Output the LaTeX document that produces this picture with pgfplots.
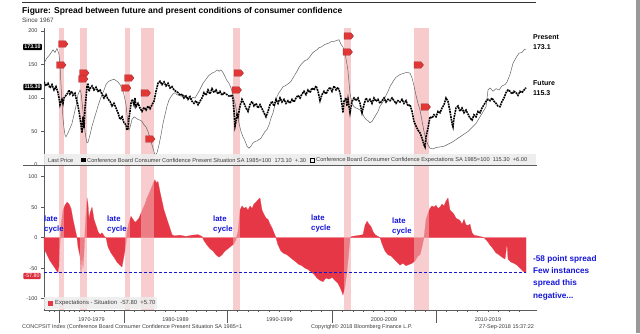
\documentclass[border=0pt]{standalone}
\usepackage{pgfplots}
\pgfplotsset{compat=1.18}
\usepackage{fontspec}
\setmainfont{Liberation Sans}
\definecolor{bandtop}{RGB}{247,202,204}
\definecolor{bandbot}{RGB}{242,172,176}
\definecolor{redarea}{RGB}{230,55,70}
\definecolor{annblue}{RGB}{20,20,215}
\definecolor{presgray}{RGB}{100,100,100}
\definecolor{flagred}{RGB}{225,55,55}
\definecolor{legbg}{RGB}{236,236,236}
\definecolor{axgray}{RGB}{90,90,90}
\definecolor{txtgray}{RGB}{60,60,60}
\definecolor{tagred}{RGB}{220,45,60}
\pgfdeclareplotmark{flag}{%
 \pgfpathmoveto{\pgfqpoint{-4.5bp}{-3.2bp}}%
 \pgfpathlineto{\pgfqpoint{2.5bp}{-3.2bp}}%
 \pgfpathlineto{\pgfqpoint{5bp}{0bp}}%
 \pgfpathlineto{\pgfqpoint{2.5bp}{3.2bp}}%
 \pgfpathlineto{\pgfqpoint{-4.5bp}{3.2bp}}%
 \pgfpathclose
 \pgfusepath{fill,stroke}}
\newcommand{\sm}{\fontsize{5.5bp}{6.5bp}\selectfont}
\newcommand{\legfont}{\fontsize{5.65bp}{6.5bp}\selectfont}
\begin{document}
\begin{tikzpicture}[x=1bp,y=1bp]
\path[use as bounding box] (0,0) rectangle (640,333);
% ---------------- top panel ----------------
\begin{axis}[
 at={(44bp,168bp)}, anchor=south west, scale only axis, width=493bp, height=137bp,
 xmin=44, xmax=537, ymin=0, ymax=204.5,
 axis x line=none, axis y line*=left,
 ytick={0,50,100,150,200},
 y axis line style={draw=axgray, line width=0.6bp},
 ytick style={draw=axgray, line width=0.6bp},
 tick align=outside, major tick length=3bp,
 yticklabel style={font=\sm, text=txtgray},
 /pgf/number format/assume math mode=true,
 clip=true,
]
\addplot[draw=none, fill=bandtop] coordinates {(59,0)(59,204.5)(64,204.5)(64,0)} -- cycle;
\addplot[draw=none, fill=bandtop] coordinates {(80,0)(80,204.5)(87,204.5)(87,0)} -- cycle;
\addplot[draw=none, fill=bandtop] coordinates {(125,0)(125,204.5)(130,204.5)(130,0)} -- cycle;
\addplot[draw=none, fill=bandtop] coordinates {(141,0)(141,204.5)(154,204.5)(154,0)} -- cycle;
\addplot[draw=none, fill=bandtop] coordinates {(233,0)(233,204.5)(240,204.5)(240,0)} -- cycle;
\addplot[draw=none, fill=bandtop] coordinates {(344,0)(344,204.5)(351,204.5)(351,0)} -- cycle;
\addplot[draw=none, fill=bandtop] coordinates {(414,0)(414,204.5)(429,204.5)(429,0)} -- cycle;
% Present situation
\addplot[presgray, line width=0.5bp] coordinates {
(44,152)(47,160)(50,165)(53,172)(55,168)(57,174)(59,165)(60,150)(61,120)(62,92)(63,70)(64,55)(65,45)(66,42)(68,48)(70,55)(72,62)(74,75)(76,88)(78,105)(80,112)(81,108)(82,95)(83,80)(84,62)(85,50)(86,40)(87,33)(88,34)(90,45)(92,58)(94,68)(96,78)(98,88)(100,97)(102,105)(104,112)(106,120)(108,124)(110,126)(112,127)(114,128)(116,126)(118,124)(120,120)(122,114)(124,105)(126,90)(127,75)(128,60)(129,52)(130,56)(132,68)(134,72)(136,70)(138,68)(140,67)(142,65)(144,60)(146,57)(148,50)(150,40)(152,30)(154,20)(155,15)(157,18)(159,30)(161,45)(163,62)(165,75)(167,88)(169,97)(171,102)(173,106)(175,108)(177,105)(179,104)(181,103)(183,102)(185,104)(187,100)(189,102)(191,98)(193,101)(195,100)(197,105)(199,110)(201,116)(203,122)(205,126)(207,130)(209,134)(211,136)(213,138)(215,139)(217,142)(219,140)(221,142)(223,138)(225,132)(227,126)(229,122)(231,115)(233,105)(235,92)(237,78)(239,62)(241,50)(243,42)(245,36)(247,28)(249,25)(251,28)(253,33)(255,35)(257,36)(259,38)(261,40)(263,45)(265,50)(267,53)(269,60)(271,70)(273,78)(275,90)(277,102)(279,108)(281,112)(283,117)(285,118)(287,120)(289,122)(291,125)(293,130)(295,135)(297,140)(299,146)(301,150)(303,153)(305,156)(307,157)(309,160)(311,164)(313,168)(315,170)(317,172)(319,175)(321,176)(323,178)(325,180)(327,181)(329,182)(331,184)(333,184)(335,185)(337,186)(339,187)(341,180)(343,176)(345,167)(347,150)(348,140)(350,107)(352,92)(354,87)(356,85)(358,84)(360,82)(362,78)(364,72)(366,68)(368,66)(370,63)(372,65)(374,70)(376,75)(378,80)(380,88)(382,92)(384,97)(386,104)(388,110)(390,117)(392,122)(394,127)(396,131)(398,133)(400,135)(402,136)(404,137)(406,138)(408,138)(410,137)(412,130)(414,118)(416,104)(418,92)(420,82)(422,66)(424,50)(426,38)(428,30)(430,25)(433,24)(436,26)(440,27)(444,28)(448,31)(452,34)(456,38)(460,42)(464,46)(468,50)(472,56)(476,62)(480,72)(484,82)(486,87)(488,112)(490,115)(493,110)(496,114)(499,112)(502,118)(505,120)(507,124)(510,135)(513,152)(516,160)(519,167)(522,168)(524,172)(526,173.1)
};
% Expectations (future)
\addplot[black, line width=1.6bp, dash pattern=on 1.8bp off 0.8bp] coordinates {
(44,124)(46,118)(48,122)(50,115)(52,120)(54,112)(56,117)(58,108)(59,100)(60,90)(61,95)(62,98)(63,92)(64,100)(66,104)(68,108)(69,112)(70,106)(72,110)(73,104)(75,107)(76,100)(77,95)(78,88)(79,80)(80,70)(81,60)(82,48)(83,72)(84,55)(85,85)(86,100)(87,118)(88,122)(89,110)(90,114)(92,118)(94,112)(96,116)(98,110)(100,112)(102,106)(104,100)(106,105)(108,98)(110,95)(112,88)(114,92)(116,85)(118,78)(120,68)(122,72)(124,63)(126,60)(127,52)(128,55)(129,70)(130,80)(131,92)(132,98)(133,95)(134,90)(135,100)(136,87)(138,92)(140,85)(142,80)(144,86)(146,82)(148,88)(150,84)(152,90)(154,95)(156,110)(158,122)(160,125)(162,120)(164,124)(166,118)(168,122)(170,115)(172,117)(174,112)(176,110)(178,108)(180,104)(182,106)(184,100)(186,103)(188,98)(190,102)(192,95)(194,92)(196,96)(198,90)(200,95)(202,100)(204,108)(206,104)(208,112)(210,106)(212,114)(214,108)(216,112)(218,106)(220,110)(222,104)(224,108)(226,106)(228,104)(230,102)(232,105)(233,98)(234,80)(235,58)(236,65)(237,75)(238,72)(240,88)(242,98)(244,92)(246,85)(248,80)(250,90)(252,95)(254,88)(256,92)(258,85)(260,90)(262,84)(264,78)(266,72)(268,80)(270,90)(272,95)(274,88)(276,98)(278,92)(280,100)(282,94)(284,98)(286,92)(288,96)(290,92)(292,98)(294,94)(296,100)(298,104)(300,100)(302,106)(304,110)(306,105)(308,112)(310,108)(312,115)(314,112)(316,118)(318,110)(320,96)(322,105)(324,110)(326,106)(328,112)(330,116)(332,110)(334,118)(336,112)(338,116)(340,108)(342,90)(343,78)(344,95)(346,100)(347,88)(348,98)(350,78)(352,95)(354,100)(356,96)(358,100)(360,92)(362,78)(364,90)(366,100)(368,95)(370,98)(372,92)(374,100)(376,95)(378,98)(380,92)(382,96)(384,100)(386,94)(388,98)(390,96)(392,100)(394,96)(396,92)(398,96)(400,94)(402,98)(404,92)(406,96)(408,88)(410,90)(412,80)(414,65)(416,58)(418,52)(420,48)(422,40)(424,30)(425,27)(426,42)(428,55)(430,72)(432,70)(434,75)(436,72)(438,80)(440,78)(442,85)(444,90)(446,100)(448,95)(450,80)(452,62)(453,57)(454,70)(456,85)(458,88)(460,80)(462,85)(464,78)(466,82)(468,76)(470,70)(472,67)(474,75)(476,72)(478,80)(480,78)(482,85)(484,90)(486,95)(488,98)(490,96)(492,100)(494,95)(496,92)(498,88)(500,87)(502,95)(504,100)(506,108)(508,112)(510,110)(512,106)(514,110)(516,108)(518,104)(520,110)(522,108)(524,112)(526,115.3)
};
% event flags
\addplot[only marks, mark=flag, mark options={fill=flagred, draw=flagred!70!black, line width=0.3bp, solid}] coordinates {
(63,180.6)(61,149.3)(84,137.3)(83,128.4)(129,129.9)(126,114.9)(145.5,107.5)(150,38.8)(238.5,137.3)(236.5,111.9)(348.5,192.5)(347.5,168.7)(418.5,149.3)(425.5,86.6)
};
\end{axis}
% ---------------- bottom panel ----------------
\begin{axis}[
 at={(44bp,23bp)}, anchor=south west, scale only axis, width=493bp, height=145bp,
 xmin=44, xmax=537, ymin=-118.5, ymax=119,
 axis x line*=bottom, axis y line*=left,
 ytick={-100,-50,0,50,100},
 xtick={59,124,227,332,436}, xticklabels={},
 minor xtick={49,54,64,69,74,79,84,89,94,104,114,134.3,144.6,154.9,165.2,175.5,185.8,196.1,206.4,216.7,237.5,248,258.5,269,279.5,290,300.5,311,321.5,342.4,352.8,363.2,373.6,384,394.4,404.8,415.2,425.6,446.4,456.8,467.2,477.6,488,498.4,508.8,519.2},
 axis line style={draw=axgray, line width=0.6bp},
 tick style={draw=axgray, line width=0.6bp},
 tick align=outside, major tick length=3bp, minor tick length=2bp,
 yticklabel style={font=\sm, text=txtgray},
 /pgf/number format/assume math mode=true,
 clip=false,
]
\addplot[fill=redarea, draw=redarea, line width=0.2bp] coordinates {
(44,0)(44,-18)(47,-28)(50,-38)(53,-45)(55,-50)(57,-55)(58,-58)(59,-45)(60,-10)(61,20)(63,45)(65,53)(67,58)(69,55)(71,48)(73,30)(75,15)(77,0)(78,-15)(80,-30)(81,-58)(82,-30)(83,-50)(84,-25)(85,10)(86,40)(87,65)(88,55)(89,30)(90,40)(92,50)(94,30)(96,20)(98,10)(100,5)(102,8)(104,3)(106,0)(108,-15)(111,-25)(114,-32)(117,-40)(120,-45)(122,-48)(124,-30)(126,-10)(127,10)(129,25)(131,35)(133,30)(135,25)(137,28)(139,32)(141,40)(143,48)(145,55)(147,65)(149,72)(151,80)(153,88)(155,95)(156,90)(158,92)(160,75)(162,60)(164,45)(166,35)(168,25)(170,15)(172,5)(174,3)(180,4)(186,2)(192,4)(198,5)(202,2)(204,-5)(207,-12)(210,-18)(213,-22)(216,-28)(219,-32)(222,-28)(225,-22)(228,-18)(231,-14)(234,-10)(236,-3)(238,10)(240,45)(242,52)(244,48)(246,50)(248,45)(250,52)(252,48)(254,55)(256,58)(258,62)(260,65)(262,45)(264,38)(266,32)(268,30)(270,22)(272,16)(274,8)(276,0)(278,-12)(281,-22)(284,-26)(287,-28)(290,-32)(293,-36)(296,-40)(299,-44)(302,-46)(305,-50)(308,-52)(311,-56)(314,-60)(317,-66)(320,-70)(323,-72)(326,-66)(329,-68)(332,-65)(335,-70)(338,-75)(341,-85)(343,-94)(345,-80)(347,-55)(349,-20)(350,0)(352,2)(356,3)(360,4)(363,5)(365,20)(367,27)(369,22)(371,18)(373,10)(375,5)(378,2)(380,0)(382,-10)(385,-22)(388,-28)(391,-30)(394,-35)(397,-40)(400,-45)(403,-42)(406,-46)(409,-44)(412,-42)(415,-38)(418,-30)(420,-28)(422,-15)(424,0)(426,30)(428,40)(430,48)(432,52)(434,50)(436,53)(438,48)(440,50)(442,55)(444,52)(446,60)(448,65)(450,45)(452,42)(454,38)(456,32)(458,30)(460,28)(462,22)(464,30)(466,21)(468,20)(470,22)(472,8)(474,4)(477,3)(480,2)(484,0)(487,-5)(490,-12)(493,-18)(496,-25)(499,-28)(502,-32)(505,-35)(507,-10)(508,-35)(511,-40)(514,-42)(517,-45)(520,-50)(523,-55)(526,-58)(526,0)
} -- cycle;
\addplot[draw=none, fill=bandbot, fill opacity=0.6] coordinates {(59,-118.5)(59,119)(64,119)(64,-118.5)} -- cycle;
\addplot[draw=none, fill=bandbot, fill opacity=0.6] coordinates {(80,-118.5)(80,119)(87,119)(87,-118.5)} -- cycle;
\addplot[draw=none, fill=bandbot, fill opacity=0.6] coordinates {(125,-118.5)(125,119)(130,119)(130,-118.5)} -- cycle;
\addplot[draw=none, fill=bandbot, fill opacity=0.6] coordinates {(141,-118.5)(141,119)(154,119)(154,-118.5)} -- cycle;
\addplot[draw=none, fill=bandbot, fill opacity=0.6] coordinates {(233,-118.5)(233,119)(240,119)(240,-118.5)} -- cycle;
\addplot[draw=none, fill=bandbot, fill opacity=0.6] coordinates {(344,-118.5)(344,119)(351,119)(351,-118.5)} -- cycle;
\addplot[draw=none, fill=bandbot, fill opacity=0.6] coordinates {(414,-118.5)(414,119)(429,119)(429,-118.5)} -- cycle;
\addplot[annblue, line width=1bp, dash pattern=on 3bp off 2bp] coordinates {(44,-57.8)(526,-57.8)};
\draw[axgray, line width=0.6bp] (axis cs:59,-118.5) -- (axis cs:59,-139.8);
\draw[axgray, line width=0.6bp] (axis cs:124,-118.5) -- (axis cs:124,-139.8);
\draw[axgray, line width=0.6bp] (axis cs:227,-118.5) -- (axis cs:227,-139.8);
\draw[axgray, line width=0.6bp] (axis cs:332,-118.5) -- (axis cs:332,-139.8);
\draw[axgray, line width=0.6bp] (axis cs:436,-118.5) -- (axis cs:436,-139.8);
\node[font=\sm, text=txtgray] at (axis cs:91.5,-118.5) [yshift=-10bp] {1970-1979};
\node[font=\sm, text=txtgray] at (axis cs:175.5,-118.5) [yshift=-10bp] {1980-1989};
\node[font=\sm, text=txtgray] at (axis cs:279.5,-118.5) [yshift=-10bp] {1990-1999};
\node[font=\sm, text=txtgray] at (axis cs:384,-118.5) [yshift=-10bp] {2000-2009};
\node[font=\sm, text=txtgray] at (axis cs:488,-118.5) [yshift=-10bp] {2010-2019};
\end{axis}
% ---------------- decorations & text ----------------
\draw[black!80, line width=0.8bp] (22,331) -- (536,331);
\fill[black!40] (636,0) rectangle (640,333);
\node[anchor=west, inner sep=0, font=\bfseries\fontsize{8.5bp}{9bp}\selectfont] at (22,322) {Figure: Spread between future and present conditions of consumer confidence};
\node[anchor=west, inner sep=0, font=\fontsize{6.3bp}{7bp}\selectfont, text=txtgray] at (22,313) {Since 1967};
% top legend
\fill[legbg, opacity=0.9] (44,168) rectangle (536,179);
\draw[axgray, line width=0.8bp] (23,168) -- (537,168);
\node[anchor=west, inner sep=0, font=\legfont, text=txtgray] at (48,173) {Last Price};
\fill[black] (81,171) rectangle (85.5,175.5);
\node[anchor=west, inner sep=0, font=\legfont, text=txtgray] at (87,173) {Conference Board Consumer Confidence Present Situation SA 1985=100\ \ 173.10\ \ +.30};
\draw[black, line width=0.4bp] (310.5,171.2) rectangle (314.5,175.2);
\node[anchor=west, inner sep=0, font=\legfont, text=txtgray] at (316,173) {Conference Board Consumer Confidence Expectations SA 1985=100\ \ 115.30\ \ +6.00};
% tags on left
\node[fill=black, text=white, font=\bfseries\fontsize{5.3bp}{6bp}\selectfont, inner xsep=1.2bp, inner ysep=1.2bp, rounded corners=0.8bp] at (32.5,286) {173.10};
\node[fill=black, text=white, font=\bfseries\fontsize{5.3bp}{6bp}\selectfont, inner xsep=1.2bp, inner ysep=1.2bp, rounded corners=0.8bp] at (32.5,246) {115.30};
\node[fill=tagred, text=white, font=\fontsize{5.3bp}{6bp}\selectfont, inner xsep=1.2bp, inner ysep=1.2bp, rounded corners=0.8bp] at (32,57) {-57.80};
% right labels
\node[anchor=west, inner sep=0, align=left, font=\bfseries\fontsize{7bp}{10bp}\selectfont] at (533,291) {Present\\173.1};
\node[anchor=west, inner sep=0, align=left, font=\bfseries\fontsize{7bp}{10bp}\selectfont] at (533,245) {Future\\115.3};
% blue annotations
\node[anchor=west, inner sep=0, align=left, text=annblue, font=\bfseries\fontsize{7.8bp}{10bp}\selectfont] at (44,109) {late\\cycle};
\node[anchor=west, inner sep=0, align=left, text=annblue, font=\bfseries\fontsize{7.8bp}{10bp}\selectfont] at (107,109) {late\\cycle};
\node[anchor=west, inner sep=0, align=left, text=annblue, font=\bfseries\fontsize{7.8bp}{10bp}\selectfont] at (213,109) {late\\cycle};
\node[anchor=west, inner sep=0, align=left, text=annblue, font=\bfseries\fontsize{7.8bp}{10bp}\selectfont] at (311,110) {late\\cycle};
\node[anchor=west, inner sep=0, align=left, text=annblue, font=\bfseries\fontsize{7.8bp}{10bp}\selectfont] at (392,107) {late\\cycle};
\node[anchor=west, inner sep=0, align=left, text=annblue, font=\bfseries\fontsize{8.2bp}{12.3bp}\selectfont] at (533,55.5) {-58 point spread\\Few instances\\spread this\\negative...};
% bottom legend
\fill[legbg, opacity=0.85] (44,24) rectangle (157,36);
\fill[redarea] (48,27.5) rectangle (53,32.5);
\node[anchor=west, inner sep=0, font=\fontsize{5.9bp}{6.5bp}\selectfont, text=txtgray] at (55,30) {Expectations - Situation\ \ -57.80\ \ +5.70};
% footer
\node[anchor=west, inner sep=0, font=\sm, text=txtgray] at (22,6) {CONCPSIT Index (Conference Board Consumer Confidence Present Situation SA 1985=1};
\node[anchor=west, inner sep=0, font=\sm, text=txtgray] at (311,6) {Copyright© 2018 Bloomberg Finance L.P.};
\node[anchor=west, inner sep=0, font=\sm, text=txtgray] at (479,6) {27-Sep-2018 15:37:22};
\end{tikzpicture}
\end{document}
